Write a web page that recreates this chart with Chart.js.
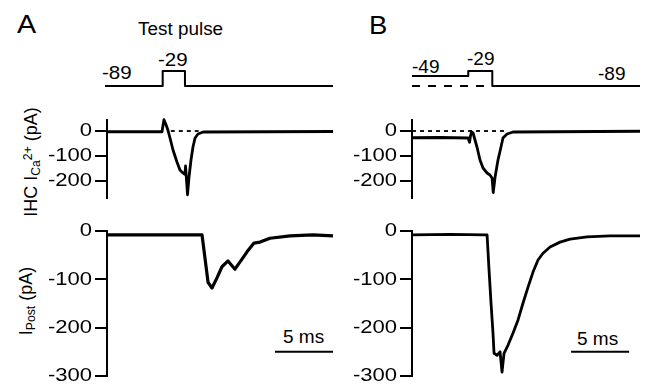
<!DOCTYPE html>
<html>
<head>
<meta charset="utf-8">
<script src="https://cdn.jsdelivr.net/npm/chart.js@4.4.1/dist/chart.umd.min.js"></script>
<style>
html, body { margin: 0; padding: 0; background: #fff; overflow: hidden; }
body { width: 645px; height: 387px; position: relative; font-family: "Liberation Sans", Arial, sans-serif; color: #000; }
canvas { position: absolute; }
.t { position: absolute; white-space: nowrap; line-height: 1; transform-origin: left center; }
.yl { position: absolute; white-space: nowrap; line-height: 1; font-size: 18px; transform: translate(-50%, -50%) rotate(-90deg); }
.yl sub, .yl sup { font-size: 0.68em; line-height: 0; }
.yl sub { vertical-align: -0.22em; }
.yl sup { vertical-align: 0.45em; }
</style>
</head>
<body>
<div class="t" style="left:17px;top:12px;font-size:25px;transform:scaleX(1.15)">A</div>
<div class="t" style="left:369px;top:13px;font-size:25px;transform:scaleX(1.1)">B</div>
<div class="t" style="left:138px;top:20px;font-size:18px;transform:scaleX(1.05)">Test pulse</div>
<div class="t" style="left:102px;top:63px;font-size:19px;transform:scaleX(1.08)">-89</div>
<div class="t" style="left:158px;top:50px;font-size:19px;transform:scaleX(1.08)">-29</div>
<div class="t" style="left:412px;top:57px;font-size:19px;transform:scaleX(1.0)">-49</div>
<div class="t" style="left:467px;top:49px;font-size:19px;transform:scaleX(1.0)">-29</div>
<div class="t" style="left:598px;top:64px;font-size:19px;transform:scaleX(1.0)">-89</div>
<div class="t" style="left:283px;top:327px;font-size:19px">5 ms</div>
<div class="t" style="left:577px;top:329px;font-size:19px">5 ms</div>
<div class="yl" style="left:31px;top:162px">IHC I<sub>Ca</sub><sup>2+</sup> (pA)</div>
<div class="yl" style="left:26px;top:301px">I<sub>Post</sub> (pA)</div>

<canvas id="vA"></canvas>
<canvas id="caA"></canvas>
<canvas id="postA"></canvas>
<canvas id="vB"></canvas>
<canvas id="caB"></canvas>
<canvas id="postB"></canvas>

<script>
// times in ms, currents in pA, voltages in mV

// panel A
const vTimeA = [-0.17, 4.80, 4.80, 6.72, 6.72, 19.48];
const vValA = [-89, -89, -29, -29, -89, -89];
const caTimeA = [0, 4.74, 4.91, 5.09, 5.26, 5.43, 5.69, 6.03, 6.29, 6.55, 6.72, 6.77, 6.94, 7.07, 7.24, 7.41, 7.59, 7.84, 8.28, 19.48];
const caValA = [-3, -3, 45, 25, 2, -28, -76, -124, -156, -168, -174, -140, -255, -184, -116, -64, -28, -12, -4, -2];
const zeroTimeA = [5.5, 7.9];
const postTimeA = [0, 8.19, 8.71, 9.05, 9.48, 9.91, 10.43, 11.03, 11.47, 12.07, 12.67, 13.19, 14.05, 15.78, 17.76, 19.48];
const postValA = [-8, -8, -106, -118, -97, -74, -62, -79, -64, -43, -25, -23, -15, -10, -8, -10];
const barTimeA = [14.48, 19.48];

// panel B
const vTimeB = [0, 4.85, 4.85, 6.92, 6.92, 19.65];
const vValB = [-49, -49, -29, -29, -89, -89];
const vDashTimeB = [0, 6.2];
const caTimeB = [0, 2.41, 4.83, 4.96, 5.04, 5.13, 5.26, 5.60, 5.86, 6.12, 6.47, 6.72, 6.90, 7.00, 7.16, 7.41, 7.67, 7.84, 8.19, 8.71, 19.65];
const caValB = [-27, -26, -28, -45, -20, -4, -8, -64, -116, -148, -168, -176, -188, -246, -184, -116, -64, -28, -12, -4, -1];
const zeroTimeB = [0, 8.0];
const postTimeB = [0, 3.28, 6.29, 6.47, 6.64, 6.81, 6.98, 7.07, 7.33, 7.59, 7.76, 7.93, 8.28, 8.71, 9.14, 9.57, 10.0, 10.43, 10.86, 11.29, 11.9, 12.76, 13.62, 15.09, 17.07, 19.65];
const postValB = [-8, -7, -8, -8, -81, -149, -211, -253, -257, -250, -292, -253, -236, -211, -184, -149, -116, -85, -60, -46, -33, -23, -17, -12, -10, -10];
const barTimeB = [13.71, 18.71];

const caTicks = [0, -100, -200];
const postTicks = [0, -100, -200, -300];
const barLevel = -250;

const FONT = "'Liberation Sans', Arial, sans-serif";
const LABEL_STRETCH = 1.16;

function pts(xs, ys) {
  return xs.map((x, i) => ({ x: x, y: Array.isArray(ys) ? ys[i] : ys }));
}

function trace(xs, ys, width, dash) {
  return {
    data: pts(xs, ys),
    borderColor: '#000',
    borderWidth: width,
    borderDash: dash || [],
    pointRadius: 0,
    fill: false,
    clip: false
  };
}

// tick labels in the figure are a bit wider than the font, stretch them around their right edge
function stretchLabels(s) {
  if (s._stretched) return;
  const orig = s.drawLabels.bind(s);
  s.drawLabels = function (area) {
    const ctx = this.ctx;
    const ax = this.right - this.options.grid.tickLength - this.options.ticks.padding;
    ctx.save();
    ctx.translate(ax, 0);
    ctx.scale(LABEL_STRETCH, 1);
    ctx.translate(-ax, 0);
    orig(area);
    ctx.restore();
  };
  s._stretched = true;
}

function makeChart(id, box, xMax, yMin, yMax, yTicks, datasets) {
  const AX = 70, P = 15, PR = 4;
  const axW = yTicks ? AX : 0;
  const c = document.getElementById(id);
  c.width = box.r - box.l + AX + PR;
  c.height = box.b - box.t + 2 * P;
  c.style.left = (box.l - AX) + 'px';
  c.style.top = (box.t - P) + 'px';
  return new Chart(c, {
    type: 'line',
    data: { datasets: datasets },
    options: {
      responsive: false,
      animation: false,
      events: [],
      layout: { padding: { left: AX - axW, right: PR, top: P, bottom: P } },
      plugins: { legend: { display: false }, tooltip: { enabled: false } },
      elements: { line: { tension: 0, borderJoinStyle: 'round' } },
      scales: {
        x: { type: 'linear', min: 0, max: xMax, display: false },
        y: {
          type: 'linear',
          min: yMin,
          max: yMax,
          display: !!yTicks,
          afterFit: s => { s.width = axW; },
          afterBuildTicks: s => { if (yTicks) s.ticks = yTicks.map(v => ({ value: v })); },
          afterUpdate: stretchLabels,
          grid: { drawOnChartArea: false, tickLength: 12, color: '#000', lineWidth: 2 },
          border: { display: true, color: '#000', width: 2 },
          ticks: { padding: 3, color: '#000', font: { family: FONT, size: 19 }, callback: v => String(v) }
        }
      }
    }
  });
}

// column A
makeChart('vA', { l: 107, r: 333, t: 68, b: 88 }, 19.48, -97, -17, null, [
  trace(vTimeA, vValA, 2)
]);
makeChart('caA', { l: 107, r: 333, t: 120, b: 198 }, 19.48, -268, 44, caTicks, [
  trace(zeroTimeA, 0, 1.8, [4, 4]),
  trace(caTimeA, caValA, 2.8)
]);
makeChart('postA', { l: 107, r: 333, t: 231, b: 376 }, 19.48, -300, 0, postTicks, [
  trace(postTimeA, postValA, 3.2),
  trace(barTimeA, barLevel, 2)
]);

// column B
makeChart('vB', { l: 412, r: 640, t: 68, b: 88 }, 19.65, -97, -17, null, [
  trace(vTimeB, vValB, 2),
  trace(vDashTimeB, -89, 2, [8, 8])
]);
makeChart('caB', { l: 412, r: 640, t: 120, b: 198 }, 19.65, -268, 44, caTicks, [
  trace(zeroTimeB, 0, 1.8, [4, 4]),
  trace(caTimeB, caValB, 2.8)
]);
makeChart('postB', { l: 412, r: 640, t: 231, b: 376 }, 19.65, -300, 0, postTicks, [
  trace(postTimeB, postValB, 2.8),
  trace(barTimeB, barLevel, 2)
]);
</script>
</body>
</html>
